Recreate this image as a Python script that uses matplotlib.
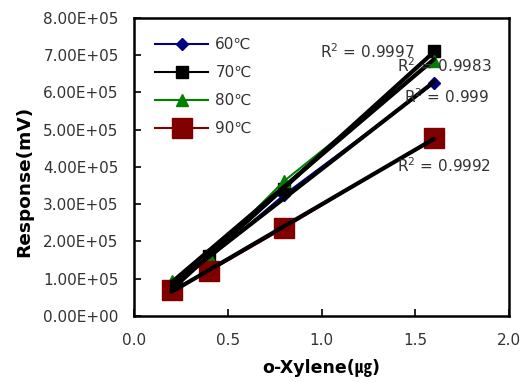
import matplotlib
matplotlib.use("Agg")
import matplotlib.pyplot as plt
import numpy as np

x = [0.2, 0.4, 0.8, 1.6]
series_labels = ["60℃", "70℃", "80℃", "90℃"]
y60 = [0.80e5, 1.55e5, 3.25e5, 6.25e5]
y70 = [0.75e5, 1.60e5, 3.40e5, 7.11e5]
y80 = [0.95e5, 1.60e5, 3.62e5, 6.85e5]
y90 = [0.70e5, 1.20e5, 2.36e5, 4.78e5]
r2_texts = ["R$^2$ = 0.999", "R$^2$ = 0.9997", "R$^2$ = 0.9983", "R$^2$ = 0.9992"]
r2_pos = [(1.44, 5.88e5), (0.99, 7.09e5), (1.40, 6.71e5), (1.40, 4.03e5)]
xticks = [0.0, 0.5, 1.0, 1.5, 2.0]
yticks = [0, 1e5, 2e5, 3e5, 4e5, 5e5, 6e5, 7e5, 8e5]

plt.rcParams['font.family'] = ['DejaVu Sans', 'Noto Sans CJK KR']

fig = plt.figure(figsize=(5.26, 3.82), dpi=100)
ax = fig.add_axes([0.2548, 0.1728, 0.9677 - 0.2548, 0.953 - 0.1728])

styles = [
    dict(color="#000080", marker="D", ms=6.5),
    dict(color="#000000", marker="s", ms=8.5),
    dict(color="#008000", marker="^", ms=8.5),
    dict(color="#800000", marker="s", ms=14.5),
]
data = [y60, y70, y80, y90]
for ys, st, lab in zip(data, styles, series_labels):
    ax.plot(x, ys, color=st["color"], lw=1.5, marker=st["marker"],
            ms=st["ms"], mfc=st["color"], mec=st["color"], label=lab, zorder=3)

xa = np.array(x)
for ys in data:
    m, b = np.polyfit(xa, np.array(ys), 1)
    ax.plot(xa[[0, -1]], m * xa[[0, -1]] + b, color="black", lw=3.0, zorder=4,
            solid_capstyle="round")

for t, (px, py) in zip(r2_texts, r2_pos):
    ax.text(px, py, t, fontsize=11, color="#333333", va="center", ha="left", zorder=5)

ax.set_xlim(0, 2.0)
ax.set_ylim(0, 8e5)
ax.set_xticks(xticks)
ax.set_yticks(yticks)
ax.set_xticklabels([f"{v:.1f}" for v in xticks], fontsize=11, color="#333333")
ax.set_yticklabels([f"{v:.2E}" for v in yticks], fontsize=11, color="#333333")
ax.tick_params(direction="in", length=5, width=1.2)
ax.tick_params(axis="y", pad=11)
ax.tick_params(axis="x", pad=12)
for s in ax.spines.values():
    s.set_linewidth(1.8)

ax.set_xlabel("o-Xylene(㎍)", fontsize=12.5, fontweight="bold",
              family=["DejaVu Sans", "Noto Sans CJK KR"])
ax.set_ylabel("Response(mV)", fontsize=13.3, fontweight="bold",
              family=["DejaVu Sans", "Noto Sans CJK KR"])
ax.yaxis.set_label_coords(-0.269, 0.45)
ax.xaxis.set_label_coords(0.5, -0.145)

leg = ax.legend(loc="upper left", bbox_to_anchor=(0.056, 0.935), frameon=False,
                handlelength=3.5, handletextpad=0.45, labelspacing=0.85,
                borderpad=0, borderaxespad=0,
                prop={"family": ["DejaVu Sans"], "size": 11})
for t in leg.get_texts():
    t.set_color("#333333")
fig.savefig("out.png", dpi=100)
